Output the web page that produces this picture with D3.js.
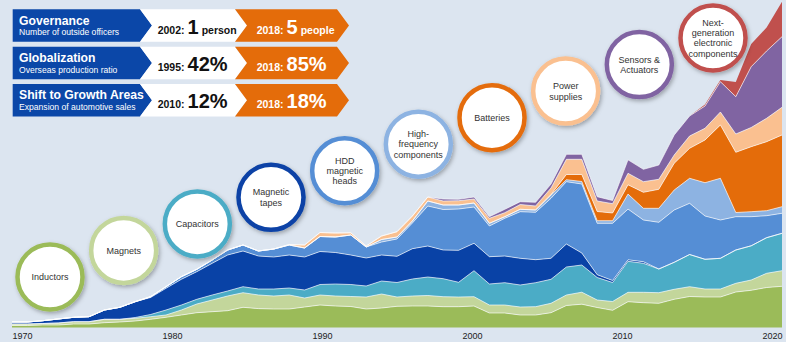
<!DOCTYPE html>
<html>
<head>
<meta charset="utf-8">
<script src="https://cdn.jsdelivr.net/npm/d3@7"></script>
<style>
  html, body { margin: 0; padding: 0; background: #dce5f0; }
  svg { display: block; font-family: "Liberation Sans", Arial, sans-serif; }
</style>
</head>
<body>
<div id="chart"></div>
<script>
const width = 786, height = 342;

// one value per year, 1970 - 2020 (index units)
const years = d3.range(1970, 2021);

const inductors = [2, 2, 2.5, 2.5, 3.5, 3.5, 4.8, 5.5, 6.5, 8.2,
    10.2, 12.5, 14.8, 15.8, 16.8, 20.2, 18.9, 18.5, 18.5, 20.5,
    22.5, 21.5, 21, 18.5, 19.5, 21.2, 21.5, 21.5, 20.8, 20.8,
    21.5, 14.5, 14.5, 12.5, 12.5, 14.8, 22, 23.3, 20, 17.2,
    25.8, 24.8, 24.2, 28.2, 31, 30.5, 30.5, 35.5, 37.2, 40, 41.2];
const magnets = [1.5, 1.5, 1.5, 2, 2.3, 2.3, 3.4, 2.7, 2.7, 2.6,
    2.3, 5, 8.7, 11.7, 14.7, 14.6, 13.6, 13, 14, 9,
    10, 10, 10, 12, 14, 9.3, 10, 10.5, 10, 9.7,
    9.3, 8, 8, 8, 8.3, 9.4, 10.5, 12, 7.5, 8.8,
    9.4, 10.4, 10.6, 10, 9.8, 8, 8, 8.7, 10.3, 14.2, 15.6];
const capacitors = [0, 0, 0, 0, 0, 0, 0, 0, 0.8, 2.2,
    5, 5, 4.7, 5, 5, 6, 6, 7, 7, 8,
    10.5, 12, 12, 11, 13, 14.5, 17, 18.5, 18, 14.7,
    26, 21, 22.3, 22, 24, 24, 28, 27.2, 22.5, 19,
    31, 29, 23.7, 27, 32.2, 29.7, 30.7, 33.3, 34.2, 35.6, 37.4];
const tapes = [2, 2, 2.8, 4, 4.4, 5, 9.3, 12, 15.8, 17,
    21.7, 25.7, 27.6, 31.7, 36, 35.7, 33, 32, 33, 33,
    33, 31.5, 29.5, 28, 26, 26.2, 30.3, 31, 28.7, 32,
    27.4, 27.3, 26.7, 26.7, 23, 21, 23, 12, 2.8, 2,
    1.5, 1.6, 0, 0, 0, 0, 0, 0, 0, 0, 0];
const hddHeads = [0, 0, 0, 0, 0, 0, 0, 0, 0, 0.8,
    1.6, 2.6, 2.4, 3.3, 5, 6, 5, 8, 10, 9,
    15, 15.5, 20, 11, 13, 17.3, 25.7, 40, 40.5, 41.3,
    36.3, 30.7, 37.7, 46.6, 47.4, 60, 62.3, 69, 51.4, 57.2,
    50.7, 41.7, 46.7, 52.3, 51.2, 43.3, 38.3, 33.3, 29.1, 22, 20];
const highFreq = [0, 0, 0, 0, 0, 0, 0, 0, 0, 0,
    0, 0, 0, 0, 0, 0, 0, 0, 0, 0,
    0, 0, 0, 0, 2.5, 2, 2, 5, 4.5, 4,
    4, 2.7, 1.6, 2.4, 2.3, 3.3, 2, 2.5, 2.6, 2.6,
    15, 11.7, 14, 20, 25, 33.3, 41.7, 4.2, 5, 5, 6.6];
const batteries = [0, 0, 0, 0, 0, 0, 0, 0, 0, 0,
    0, 0, 0, 0, 0, 0, 0, 0, 0, 0,
    0, 0, 0, 0, 0, 0, 0, 0, 0, 0,
    0, 0, 0, 0, 0, 0.5, 5.2, 7, 9.2, 7.7,
    9.3, 16, 19, 26.7, 30, 42.7, 53.3, 60.2, 65, 69, 71.7];
const powerSupplies = [0, 0, 0, 0, 0, 0, 0, 0, 0, 0,
    0, 0, 0, 0, 0, 0, 0, 0, 0.5, 3,
    4, 4, 2.2, 1, 3.5, 5.3, 5, 4, 4, 4.3,
    4, 5, 4, 4.8, 4, 6.5, 15.2, 15.2, 10.5, 9.3,
    11.5, 10.6, 10, 8.3, 12.3, 11.7, 13, 18.3, 19.2, 23.4, 27.7];
const sensors = [0, 0, 0, 0, 0, 0, 0, 0, 0, 0,
    0, 0, 0, 0, 0, 0, 0, 0, 0, 0,
    0, 0, 0, 0, 0, 0, 0, 0, 2, 1.4,
    2, 1.6, 3.4, 2.8, 3.7, 4, 5, 5, 4.3, 3.2,
    13.5, 12.4, 14.3, 20, 20, 22.3, 30.3, 37.3, 60.8, 67.3, 70.6];
const nextGen = [0, 0, 0, 0, 0, 0, 0, 0, 0, 0,
    0, 0, 0, 0, 0, 0, 0, 0, 0, 0,
    0, 0, 0, 0, 0, 0, 0, 0, 0, 0,
    0, 0, 0, 0, 0, 0, 0, 0, 0, 0,
    0, 0, 0, 0, 0, 1.5, 1.7, 14.7, 22.7, 23.5, 35];

const keys = ["inductors", "magnets", "capacitors", "tapes", "hddHeads",
    "highFreq", "batteries", "powerSupplies", "sensors", "nextGen"];
const series = [inductors, magnets, capacitors, tapes, hddHeads,
    highFreq, batteries, powerSupplies, sensors, nextGen];
const colors = ["#9bbb59", "#c3d69b", "#4bacc6", "#0942a6", "#558ed5",
    "#8db3e2", "#e46c0a", "#fac090", "#8064a2", "#c0504d"];
const bubbleLabels = [["Inductors"], ["Magnets"], ["Capacitors"], ["Magnetic", "tapes"],
    ["HDD", "magnetic", "heads"], ["High-", "frequency", "components"], ["Batteries"],
    ["Power", "supplies"], ["Sensors &", "Actuators"],
    ["Next-", "generation", "electronic", "components"]];

const tickYears = [1970, 1980, 1990, 2000, 2010, 2020];

// headline figures
const kpiTitles = ["Governance", "Globalization", "Shift to Growth Areas"];
const kpiSubtitles = ["Number of outside officers", "Overseas production ratio", "Expansion of automotive sales"];
const beforeYears = ["2002:", "1995:", "2010:"];
const beforeValues = ["1", "42%", "12%"];
const beforeUnits = ["person", "", ""];
const afterYears = ["2018:", "2018:", "2018:"];
const afterValues = ["5", "85%", "18%"];
const afterUnits = ["people", "", ""];

const table = years.map((yr, i) => {
    const row = { year: yr };
    keys.forEach((k, j) => { row[k] = series[j][i]; });
    return row;
});

const svg = d3.select("#chart")
    .append("svg")
    .attr("width", width)
    .attr("height", height);

svg.append("rect")
    .attr("width", width)
    .attr("height", height)
    .attr("fill", "#dce5f0");

const defs = svg.append("defs");
const shadow = defs.append("filter")
    .attr("id", "shadow")
    .attr("x", "-30%").attr("y", "-30%")
    .attr("width", "160%").attr("height", "160%");
shadow.append("feDropShadow")
    .attr("dx", 1.5)
    .attr("dy", 2)
    .attr("stdDeviation", 2)
    .attr("flood-color", "#000")
    .attr("flood-opacity", 0.3);

const x = d3.scaleLinear()
    .domain([1970, 2020])
    .range([12, 782]);

const y = d3.scaleLinear()
    .domain([0, 330])
    .range([327.5, -2.5]);

// tick labels sit on their own, slightly narrower spacing
const xLabel = d3.scaleLinear()
    .domain([1970, 2020])
    .range([22, 772]);

const stacked = d3.stack().keys(keys)(table);

const area = d3.area()
    .x(d => x(d.data.year))
    .y0(d => y(d[0]))
    .y1(d => y(d[1]));

const edge = d3.line()
    .x(d => x(d.data.year))
    .y(d => y(d[1]));

svg.append("g")
    .selectAll("path")
    .data(stacked)
    .join("path")
    .attr("d", area)
    .attr("fill", (d, i) => colors[i]);

// thin white seams between the layers
svg.append("g")
    .selectAll("path")
    .data(stacked.slice(0, -1))
    .join("path")
    .attr("d", edge)
    .attr("fill", "none")
    .attr("stroke", "#fff")
    .attr("stroke-opacity", 0.8)
    .attr("stroke-width", 0.8);

const axis = svg.append("g")
    .attr("transform", `translate(0, 328)`)
    .call(d3.axisBottom(xLabel).tickValues(tickYears).tickFormat(d3.format("d")).tickSize(0).tickPadding(5));
axis.select(".domain").remove();
axis.selectAll("text")
    .attr("font-size", 9)
    .attr("font-family", "Liberation Sans, Arial, sans-serif")
    .attr("fill", "#222");

// product bubbles climbing along the chart
const bx = d3.scaleLinear().domain([0, 9]).range([50, 713]);
const by = d3.scaleLinear().domain([0, 9]).range([277, 38]);

const bubbles = svg.append("g")
    .selectAll("g")
    .data(bubbleLabels)
    .join("g")
    .attr("transform", (d, i) => `translate(${bx(i)},${by(i)})`);

bubbles.append("circle")
    .attr("r", 32.5)
    .attr("fill", "#fff")
    .attr("stroke", (d, i) => colors[i])
    .attr("stroke-width", 4.5)
    .attr("filter", "url(#shadow)");

bubbles.append("text")
    .attr("text-anchor", "middle")
    .attr("font-size", 9)
    .attr("fill", "#333")
    .selectAll("tspan")
    .data(d => d.map((t, k) => ({ t, k, n: d.length })))
    .join("tspan")
    .attr("x", 0)
    .attr("y", d => (d.k - (d.n - 1) / 2) * 10.4 + 3.2)
    .text(d => d.t);

// headline arrow rows
const rowTop = i => 9.3 + i * 37.4;
const rowH = 32.5, tip = 12;
const x0 = 12.7, x1 = 140, x2 = 235, x3 = 337;

const rows = svg.append("g")
    .selectAll("g")
    .data(kpiTitles)
    .join("g")
    .attr("transform", (d, i) => `translate(0,${rowTop(i)})`);

const m = rowH / 2;
rows.append("path")
    .attr("d", `M${x0},0H${x1}L${x1 + tip},${m}L${x1},${rowH}H${x0}Z`)
    .attr("fill", "#0b47a8");
rows.append("path")
    .attr("d", `M${x1},0H${x2}L${x2 + tip},${m}L${x2},${rowH}H${x1}L${x1 + tip},${m}Z`)
    .attr("fill", "#fff");
rows.append("path")
    .attr("d", `M${x2},0H${x3}L${x3 + tip},${m}L${x3},${rowH}H${x2}L${x2 + tip},${m}Z`)
    .attr("fill", "#e46c0a");

rows.append("text")
    .attr("x", 19)
    .attr("y", 15.3)
    .attr("fill", "#fff")
    .attr("font-size", 12.2)
    .attr("font-weight", "bold")
    .text(d => d);

rows.append("text")
    .attr("x", 19)
    .attr("y", 26.2)
    .attr("fill", "#fff")
    .attr("font-size", 8.6)
    .text((d, i) => kpiSubtitles[i]);

function figure(sel, xPos, color, yrs, vals, units) {
    const t = sel.append("text")
        .attr("x", xPos)
        .attr("y", 24.3)
        .attr("fill", color)
        .attr("font-weight", "bold");
    t.append("tspan").attr("font-size", 10.5).text((d, i) => yrs[i]);
    t.append("tspan").attr("dx", 3).attr("font-size", 20).text((d, i) => vals[i]);
    t.append("tspan").attr("dx", 3).attr("font-size", 10.5).text((d, i) => units[i]);
}
figure(rows, 157.7, "#111", beforeYears, beforeValues, beforeUnits);
figure(rows, 256.7, "#fff", afterYears, afterValues, afterUnits);
</script>
</body>
</html>
